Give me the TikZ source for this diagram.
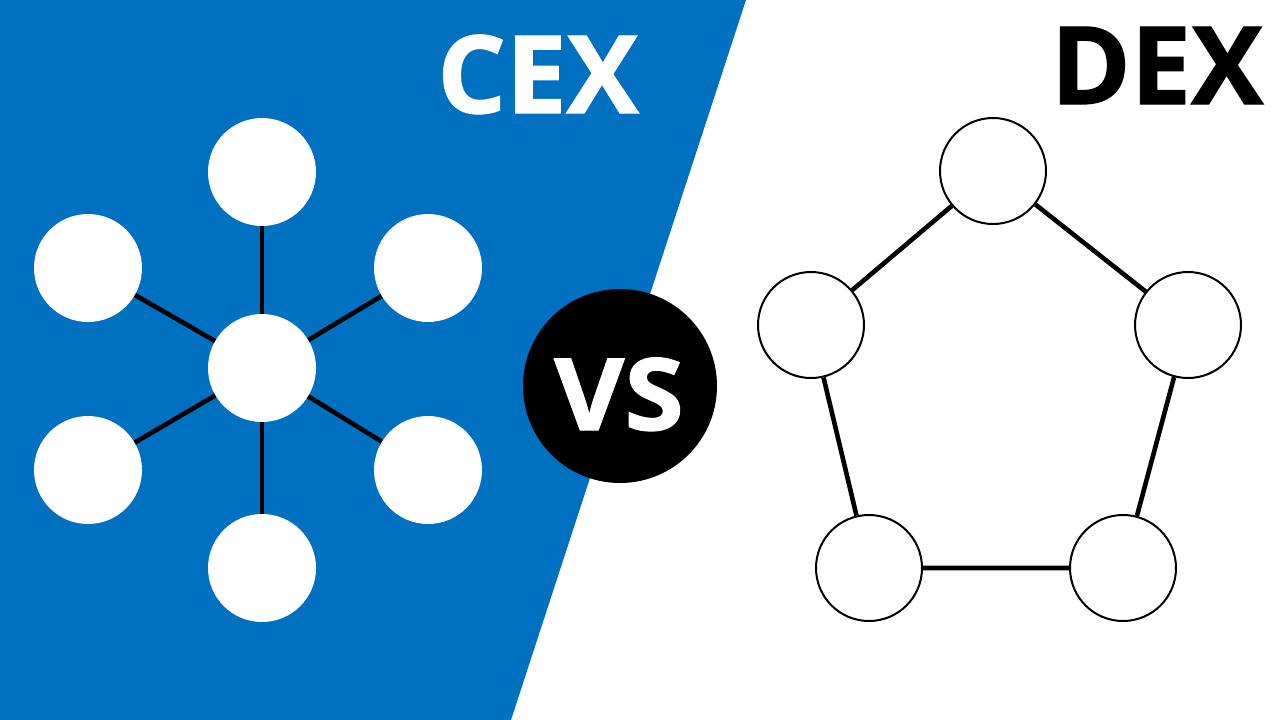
\documentclass[tikz,border=0pt]{standalone}
\usepackage{fontspec}
\setmainfont{Open Sans}
\newfontfamily\heavyfont{Open Sans}[FakeBold=1.2]
\usetikzlibrary{shapes}
\definecolor{cexblue}{RGB}{0,112,192}

\begin{document}
\begin{tikzpicture}[x=1pt,y=-1pt,
                   hub/.style={circle,fill=white,minimum size=108pt,inner sep=0pt},
                   peer/.style={circle,draw=black,line width=2pt,fill=white,minimum size=106pt,inner sep=0pt},
                   link/.style={line width=4.6pt,black},
                   title/.style={font=\fontsize{108}{108}\heavyfont\bfseries,anchor=base,inner sep=0pt}]
\useasboundingbox (0,0) rectangle (1280,720);
\fill[white] (0,0) rectangle (1280,720);
\fill[cexblue] (0,0) -- (746,0) -- (511,720) -- (0,720) -- cycle;
% centralised exchange
\node[hub] (hub) at (262,368) {};
\node[hub] (ht) at (262,172) {};
\node[hub] (hb) at (262,568) {};
\node[hub] (hlu) at (88,268) {};
\node[hub] (hll) at (88,470) {};
\node[hub] (hru) at (428,268) {};
\node[hub] (hrl) at (428,470) {};
\foreach \n in {ht,hb,hlu,hll,hru,hrl}
  \draw[link] (hub) -- (\n);
% decentralised exchange
\node[peer] (pt) at (993,171) {};
\node[peer] (pl) at (811,325) {};
\node[peer] (pr) at (1188,325) {};
\node[peer] (pbl) at (869,568) {};
\node[peer] (pbr) at (1123,568) {};
\draw[link] (pt) -- (pl) (pt) -- (pr) (pl) -- (pbl) (pr) -- (pbr) (pbl) -- (pbr);
% titles
\node[title,text=white] (cex) at (538,113) {CEX};
\node[title,text=black] (dex) at (1157,104) {DEX};
\node[circle,fill=black,minimum size=194pt,inner sep=0pt] (vs) at (620,386) {};
\node[font=\fontsize{100}{100}\heavyfont\bfseries,text=white,anchor=base,inner sep=0pt,xscale=1.08] (vstext) at (619,430) {VS};
\end{tikzpicture}
\end{document}
